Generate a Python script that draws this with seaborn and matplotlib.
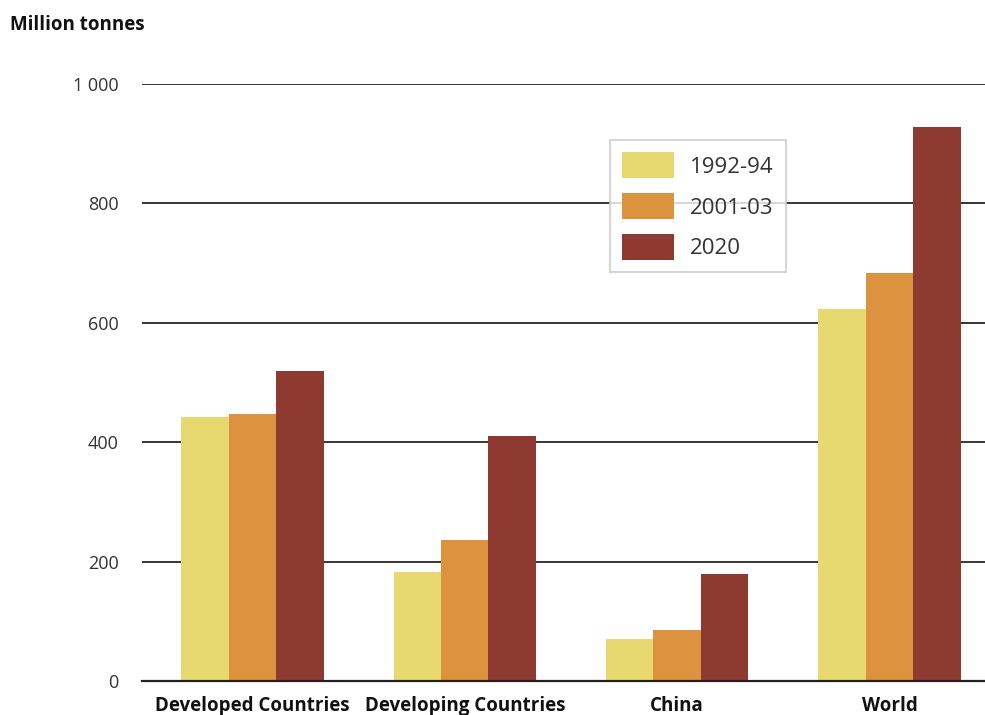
import matplotlib
matplotlib.use("Agg")
import matplotlib.pyplot as plt
import seaborn as sns
import pandas as pd

categories = ["Developed Countries", "Developing Countries", "China", "World"]
periods = ["1992-94", "2001-03", "2020"]
values_1992 = [442, 183, 70, 623]
values_2001 = [447, 236, 85, 683]
values_2020 = [519, 410, 179, 928]
yticks = [0, 200, 400, 600, 800, 1000]
ytick_labels = ["0", "200", "400", "600", "800", "1 000"]
colors = ["#E8D870", "#DC923E", "#8E3A31"]

rows = []
for p, vals in zip(periods, [values_1992, values_2001, values_2020]):
    for c, v in zip(categories, vals):
        rows.append({"Region": c, "Period": p, "Value": v})
df = pd.DataFrame(rows)

sns.set_theme(style="white")
plt.rcParams["font.family"] = ["Open Sans", "DejaVu Sans"]

fig = plt.figure(figsize=(9.85, 7.15), dpi=100)
ax = fig.add_axes([142/985, 34/715, 1 - 142/985, (681-84)/715])

for y in yticks[1:]:
    ax.axhline(y, color="black", lw=1.1, zorder=0)

sns.barplot(data=df, x="Region", y="Value", hue="Period", order=categories,
            hue_order=periods, palette=colors, width=0.67, saturation=1,
            ax=ax, zorder=2, linewidth=0)

ax.set_xlim(-0.52, 3.45)
ax.set_ylim(0, 1000)
ax.set_yticks(yticks)
ax.set_yticklabels(ytick_labels, color="#333333", fontsize=13)
ax.tick_params(axis="y", length=0, pad=17)
ax.tick_params(axis="x", length=0, pad=11)
for lbl in ax.get_xticklabels():
    lbl.set_fontweight("bold")
    lbl.set_fontsize(13.5)
    lbl.set_color("#111111")
ax.set_xlabel("")
ax.set_ylabel("")
for s in ["top", "right", "left"]:
    ax.spines[s].set_visible(False)
ax.spines["bottom"].set_color("#222222")
ax.spines["bottom"].set_linewidth(1.6)
ax.spines["bottom"].set_zorder(3)

fig.text(10/985, 1 - 25/715, "Million tonnes", fontsize=13.5, fontweight="bold",
         va="center", ha="left", color="#111111")

leg = ax.legend(loc="upper left", bbox_to_anchor=(610/985, 1 - 140/715),
                bbox_transform=fig.transFigure, fontsize=16, frameon=True,
                fancybox=False, edgecolor="#CCCCCC", handlelength=2.34,
                handleheight=1.42, labelspacing=0.675, handletextpad=0.72,
                borderpad=0.55, borderaxespad=0)
leg.get_frame().set_linewidth(1.5)
for t in leg.get_texts():
    t.set_color("#333333")

fig.savefig("out.png", dpi=100)
